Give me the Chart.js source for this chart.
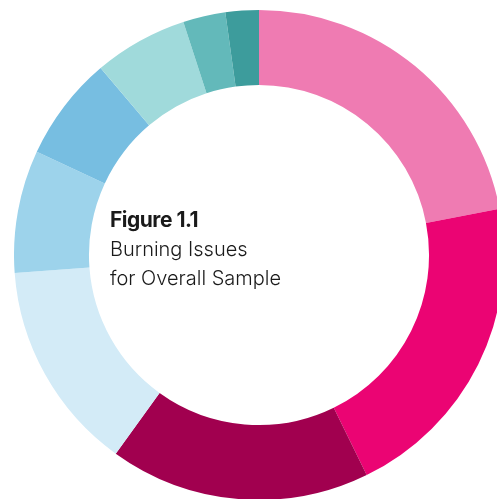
<!DOCTYPE html>
<html>
<head>
<meta charset="utf-8">
<script src="https://cdn.jsdelivr.net/npm/chart.js@4"></script>
<style>
  html, body {
    margin: 0;
    padding: 0;
    width: 497px;
    height: 499px;
    overflow: hidden;
    background: #fff;
  }
  #chart-box {
    position: absolute;
    left: 14px;
    top: 10px;
    width: 490px;
    height: 490px;
  }
  #caption {
    position: absolute;
    left: 110px;
    top: 205px;
    font-family: Inter, "Open Sans", sans-serif;
    color: #1a1a1a;
    font-size: 20px;
    line-height: 29px;
    font-weight: 300;
    letter-spacing: 0;
  }
  #caption b {
    font-weight: 700;
    font-size: 21px;
    letter-spacing: -0.5px;
  }
</style>
</head>
<body>
<div id="chart-box"><canvas id="chart-issues"></canvas></div>
<div id="caption"><b>Figure 1.1</b><br>Burning Issues<br>for Overall Sample</div>

<script>
// share of respondents per issue, clockwise from the top
var issues = ['Issue 1', 'Issue 2', 'Issue 3', 'Issue 4', 'Issue 5', 'Issue 6', 'Issue 7', 'Issue 8', 'Issue 9'];
var shares = [22.0, 20.8, 17.2, 13.9, 8.1, 6.9, 6.2, 2.8, 2.2];
var colors = ['#ef7bb2', '#eb0473', '#a1004f', '#d3ebf7', '#9dd3eb', '#77bee1', '#a0dadb', '#63b9ba', '#3d9c9c'];

function loadChart() {
  new Chart(document.getElementById('chart-issues'), {
    type: 'doughnut',
    data: {
      labels: issues,
      datasets: [{
        data: shares,
        backgroundColor: colors,
        borderWidth: 0,
        hoverOffset: 0,
        offset: 0
      }]
    },
    options: {
      responsive: true,
      maintainAspectRatio: false,
      animation: false,
      cutout: '69.4%',
      layout: { padding: 0 },
      plugins: {
        legend: { display: false },
        tooltip: { enabled: false }
      }
    }
  });
}

loadChart();
</script>
</body>
</html>
